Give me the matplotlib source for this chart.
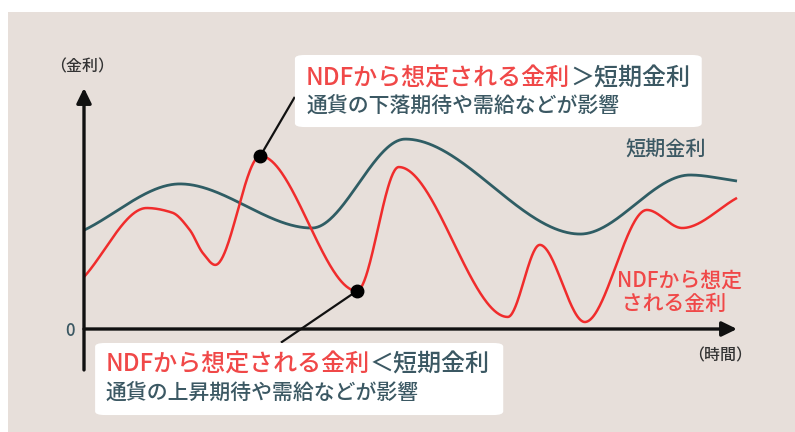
import numpy as np
import matplotlib
matplotlib.use("Agg")
import matplotlib.pyplot as plt
from matplotlib.patches import FancyBboxPatch, Rectangle

plt.rcParams['font.family'] = ['Noto Sans CJK JP', 'DejaVu Sans']
plt.rcParams['font.weight'] = 'medium'

# values (time 0-100, rate 0-100)
short_x = [0, 14.7, 34.9, 49.2, 76.0, 92.8, 100]
short_y = [41.0, 60.2, 41.9, 78.8, 39.4, 63.9, 61.4]

ndf_x = [0, 9.6, 13.5, 16.2, 18.2, 20.1, 27.0, 41.8, 48.2, 64.9, 69.8, 76.7, 86.2, 91.6, 100]
ndf_y = [21.6, 50.2, 48.3, 41.1, 31.5, 26.6, 71.8, 15.8, 67.2, 5.0, 34.9, 2.9, 49.4, 41.9, 54.4]

# points picked out by the call-out boxes
high_idx = 6
low_idx = 7

TEAL = '#2f5d64'
RED = '#f02c2c'
RED_TXT = '#f04848'
DARK_TXT = '#3b5863'
BG = '#e7dfda'


def pchip(x, y, n=800):
    # monotone cubic through the read points, only used to draw a smooth line
    x = np.asarray(x, float)
    y = np.asarray(y, float)
    h = np.diff(x)
    d = np.diff(y) / h
    m = np.zeros_like(y)
    for k in range(1, len(x) - 1):
        if d[k - 1] * d[k] > 0:
            w1 = 2 * h[k] + h[k - 1]
            w2 = h[k] + 2 * h[k - 1]
            m[k] = (w1 + w2) / (w1 / d[k - 1] + w2 / d[k])
    m[0] = d[0]
    m[-1] = d[-1]
    xs = np.linspace(x[0], x[-1], n)
    idx = np.clip(np.searchsorted(x, xs) - 1, 0, len(h) - 1)
    t = (xs - x[idx]) / h[idx]
    h00 = 2 * t**3 - 3 * t**2 + 1
    h10 = t**3 - 2 * t**2 + t
    h01 = -2 * t**3 + 3 * t**2
    h11 = t**3 - t**2
    ys = h00 * y[idx] + h10 * h[idx] * m[idx] + h01 * y[idx + 1] + h11 * h[idx] * m[idx + 1]
    return xs, ys


fig = plt.figure(figsize=(7.95, 4.32), dpi=100, facecolor='white')
fig.patches.append(Rectangle((8 / 795, 0), 1, 420 / 432, transform=fig.transFigure,
                             facecolor=BG, edgecolor='none', zorder=-10))

ax = fig.add_axes([84 / 795, 103 / 432, 653 / 795, 241 / 432])
ax.set_xlim(0, 100)
ax.set_ylim(0, 100)
ax.axis('off')
ax.patch.set_alpha(0)

# axes with arrows
arrow = dict(arrowstyle='-|>,head_length=0.45,head_width=0.22', lw=2.4, color='#111111',
             shrinkA=0, shrinkB=0, mutation_scale=20)
ax.annotate('', xy=(0, 100), xytext=(0, -17), arrowprops=arrow, annotation_clip=False)
ax.annotate('', xy=(100, 0), xytext=(0, 0), arrowprops=arrow, annotation_clip=False)

# curves
sx, sy = pchip(short_x, short_y)
ax.plot(sx, sy, color=TEAL, lw=2.0, clip_on=False, solid_capstyle='butt')
nx, ny = pchip(ndf_x, ndf_y)
ax.plot(nx, ny, color=RED, lw=1.8, clip_on=False, solid_capstyle='butt')

# call-out points and leaders
ax.plot([ndf_x[high_idx], 32.2], [ndf_y[high_idx], 95.9], color='#111111', lw=1.6, clip_on=False)
ax.plot([ndf_x[low_idx], 30.3], [ndf_y[low_idx], -5.4], color='#111111', lw=1.6, clip_on=False)
ax.plot([ndf_x[high_idx], ndf_x[low_idx]], [ndf_y[high_idx], ndf_y[low_idx]], 'o',
        color='black', ms=9, clip_on=False, zorder=5)

# call-out boxes
for x0, y0, w, hgt in [(32.3, 83.8, 62.3, 29.9), (1.7, -35.7, 62.5, 29.9)]:
    ax.add_patch(FancyBboxPatch((x0, y0), w, hgt, boxstyle='round,pad=0,rounding_size=1.5',
                                facecolor='white', edgecolor='none', clip_on=False, zorder=6))


def two_color_line(x, y, red_part, dark_part, size):
    t1 = ax.text(x, y, red_part, color=RED_TXT, fontsize=size, va='center', ha='left',
                 zorder=7, clip_on=False)
    ax.annotate(dark_part, xy=(1, 0), xycoords=t1, va='bottom', ha='left',
                color=DARK_TXT, fontsize=size, zorder=7, annotation_clip=False)


two_color_line(34.0, 104.1, 'NDFから想定される金利', '＞短期金利', 17.3)
ax.text(34.0, 92.6, '通貨の下落期待や需給などが影響', color=DARK_TXT, fontsize=15,
        va='center', ha='left', zorder=7)
two_color_line(3.3, -14.9, 'NDFから想定される金利', '＜短期金利', 17.3)
ax.text(3.3, -26.6, '通貨の上昇期待や需給などが影響', color=DARK_TXT, fontsize=15,
        va='center', ha='left', zorder=7)

# labels
ax.text(89.1, 74.3, '短期金利', color=DARK_TXT, fontsize=14.5, ha='center', va='center')
ax.text(81.6, 15.2, 'NDFから想定\n される金利', color=RED_TXT, fontsize=15, ha='left',
        va='center', linespacing=1.1)
ax.text(-2.1, -0.8, '0', color=DARK_TXT, fontsize=12, ha='center', va='center')
ax.text(-0.3, 108.7, '（金利）', color='#333333', fontsize=11.5, ha='center', va='center')
ax.text(97.4, -11.2, '（時間）', color='#333333', fontsize=11.5, ha='center', va='center')

fig.savefig('out.png', dpi=100, facecolor=fig.get_facecolor())
